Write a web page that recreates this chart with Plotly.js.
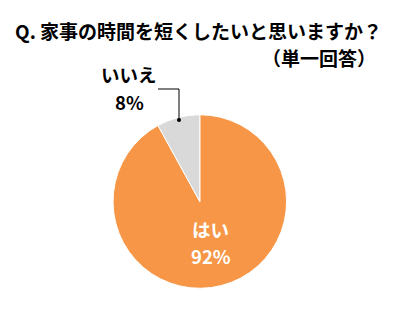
<!DOCTYPE html>
<html><head><meta charset="utf-8">
<script src="https://cdn.plot.ly/plotly-3.0.1.min.js"></script>
<style>html,body{margin:0;padding:0;background:#fff}</style>
</head><body><div id="chart" style="width:400px;height:325px"></div>
<script>
const categories = ["はい", "いいえ"];
const values = [92, 8];
const colors = ["#F79646", "#D9D9D9"];
const titleText = "Q. 家事の時間を短くしたいと思いますか？";
const subtitleText = "（単一回答）";

const font = "'Noto Sans CJK JP', 'Noto Sans', sans-serif";
const data = [{
  type: "pie",
  labels: categories,
  values: values,
  sort: false,
  direction: "clockwise",
  rotation: 0,
  marker: {colors: colors, line: {color: "#ffffff", width: 1}},
  textinfo: "none",
  hoverinfo: "none",
  showlegend: false,
  domain: {x: [0.282, 0.717], y: [0.113, 0.647]}
}];
function ann(text, x, y, size, color, xanchor) {
  return {text: "<b>" + text + "</b>", xref: "paper", yref: "paper", x: x/400, y: 1 - y/325,
    xanchor: xanchor || "center", yanchor: "middle", showarrow: false,
    font: {family: font, size: size, color: color}};
}
const layout = {
  width: 400, height: 325,
  margin: {l: 0, r: 0, t: 0, b: 0},
  paper_bgcolor: "#fff",
  title: {text: "<b>" + titleText + "</b>", x: 15/400, xanchor: "left", xref: "paper",
          y: 1 - 32/325, yanchor: "middle", yref: "paper",
          font: {family: font, size: 19, color: "#000"}},
  annotations: [
    ann(subtitleText, 378, 58, 19, "#000", "right"),
    ann(categories[1], 129, 74, 18.5, "#000"),
    ann(values[1] + "%", 129, 101.5, 18.5, "#000"),
    ann(categories[0], 210, 228.5, 18.5, "#fff"),
    ann(values[0] + "%", 211, 256, 18.5, "#fff")
  ],
  shapes: [
    {type: "path", xref: "paper", yref: "paper", path: "M 0.395 " + (1-89/325) + " L 0.4475 " + (1-89/325) + " L 0.4475 " + (1-120/325),
     line: {color: "#000", width: 1}},
    {type: "circle", xref: "paper", yref: "paper", x0: 177/400, x1: 181/400, y0: 1-122/325, y1: 1-118/325,
     fillcolor: "#000", line: {color: "#000", width: 0}}
  ]
};
Plotly.newPlot("chart", data, layout, {staticPlot: true});
</script></body></html>
